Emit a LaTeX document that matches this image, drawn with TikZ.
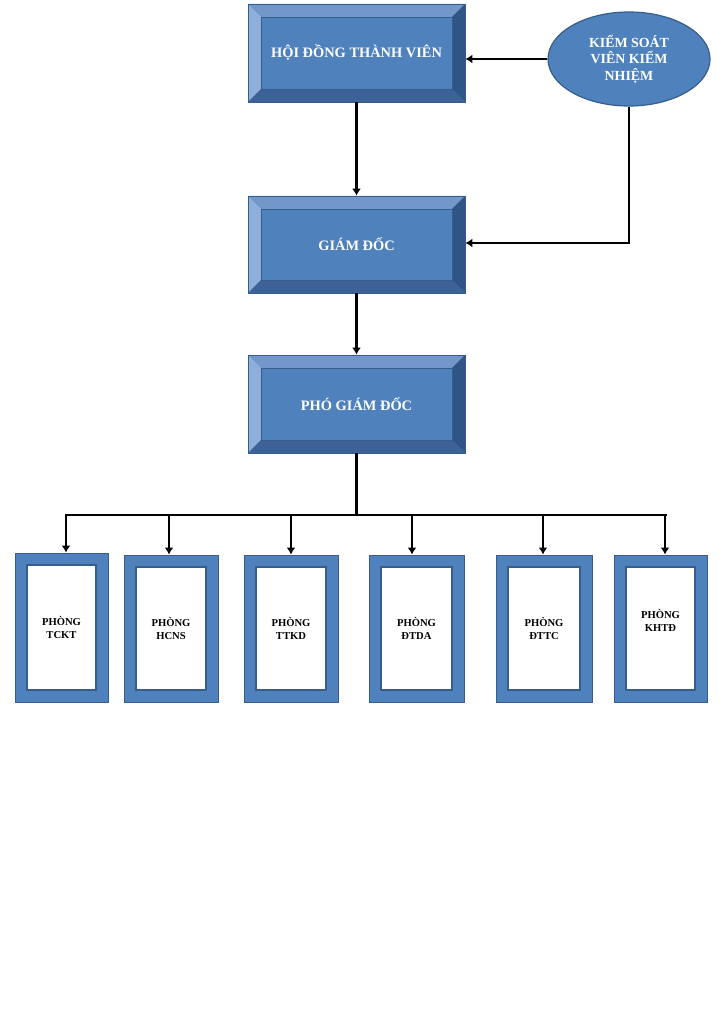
\documentclass[tikz,border=0pt]{standalone}
\usepackage{fontspec}
\setmainfont{Liberation Serif}
\usetikzlibrary{calc,arrows.meta,shapes.geometric}
\definecolor{boxblue}{HTML}{4F81BD}
\definecolor{boxedge}{HTML}{385D8A}
\definecolor{bevtop}{HTML}{7297CB}
\definecolor{bevleft}{HTML}{8FAEDA}
\definecolor{bevright}{HTML}{2F5486}
\definecolor{bevbot}{HTML}{3C6298}
\tikzset{
  bevelbox/.style={rectangle, fill=boxblue, draw=boxedge, line width=0.8pt,
    minimum width=217pt, minimum height=98pt, inner sep=0pt,
    text=white, font=\bfseries\fontsize{14.4}{16}\selectfont,
    path picture={
      \coordinate (nw) at (path picture bounding box.north west);
      \coordinate (ne) at (path picture bounding box.north east);
      \coordinate (sw) at (path picture bounding box.south west);
      \coordinate (se) at (path picture bounding box.south east);
      \fill[bevtop] (nw) -- (ne) -- ($(ne)+(-13pt,-13pt)$) -- ($(nw)+(13pt,-13pt)$) -- cycle;
      \fill[bevleft] (nw) -- (sw) -- ($(sw)+(13pt,13pt)$) -- ($(nw)+(13pt,-13pt)$) -- cycle;
      \fill[bevright] (ne) -- (se) -- ($(se)+(-13pt,13pt)$) -- ($(ne)+(-13pt,-13pt)$) -- cycle;
      \fill[bevbot] (sw) -- (se) -- ($(se)+(-13pt,13pt)$) -- ($(sw)+(13pt,13pt)$) -- cycle;
      \draw[boxedge, line width=0.5pt] ($(nw)+(13pt,-13pt)$) rectangle ($(se)+(-13pt,13pt)$);
    }},
  deptfont/.style={font=\bfseries\fontsize{10.6}{12.5}\selectfont},
  deptbox/.style={rectangle, fill=boxblue, draw=boxedge, line width=1pt,
    minimum width=94pt, minimum height=148pt, inner sep=0pt, align=center,
    deptfont,
    path picture={
      \draw[boxedge, line width=1.4pt, fill=white]
        ($(path picture bounding box.north west)+(12pt,-12pt)$) rectangle
        ($(path picture bounding box.south east)+(-12pt,12pt)$);
    }},
  oval/.style={ellipse, fill=boxblue, draw=boxedge, line width=1.2pt,
    minimum width=162pt, minimum height=94pt, inner sep=0pt, align=center,
    text=white, font=\bfseries\fontsize{13.9}{16.5}\selectfont},
  conn/.style={line width=2.3pt, -{Latex[length=7pt,width=9pt]}},
  bus/.style={line width=2.3pt}
}
\begin{document}
\begin{tikzpicture}[x=1pt,y=-1pt]
\useasboundingbox (0,0) rectangle (724,1024);
\node[bevelbox] (hdtv) at (356.5,53) {HỘI ĐỒNG THÀNH VIÊN};
\node[bevelbox, minimum height=97pt] (gd) at (356.5,244.5) {GIÁM ĐỐC};
\node[bevelbox] (pgd) at (356.5,404) {PHÓ GIÁM ĐỐC};
\node[oval] (ks) at (629,59) {KIỂM SOÁT\\VIÊN KIỂM\\NHIỆM};

\node[deptbox, minimum width=93pt, minimum height=149pt] (p1) at (61.5,627.5) {PHÒNG\\TCKT};
\node[deptbox, minimum height=147pt] (p2) at (171,628.5) {PHÒNG\\HCNS};
\node[deptbox, minimum height=147pt] (p3) at (291,628.5) {PHÒNG\\TTKD};
\node[deptbox, minimum width=95pt, minimum height=147pt] (p4) at (416.5,628.5) {PHÒNG\\ĐTDA};
\node[deptbox, minimum width=96pt, minimum height=147pt] (p5) at (544,628.5) {PHÒNG\\ĐTTC};
\node[deptbox, minimum width=93pt, minimum height=147pt,
  label={[deptfont, align=center, yshift=8pt]center:PHÒNG\\KHTĐ}] (p6) at (660.5,628.5) {};

% top connectors
\draw[conn] (ks.west) -- (hdtv.east |- ks.west);
\draw[conn] (hdtv.south) -- (gd.north);
\coordinate (kd) at (629,243);
\draw[conn] (ks.south) -- (kd) -- (gd.east |- kd);
\draw[conn] (gd.south) -- (pgd.north);

% bus
\coordinate (bl) at (66,515);
\coordinate (br) at (666,515);
\coordinate (bt) at (pgd.south |- bl);
\draw[bus] (pgd.south) -- (bt);
\draw[bus, line cap=rect] (bl) -- (br);
\coordinate (b1) at (66,515);
\coordinate (b2) at (169,515);
\coordinate (b3) at (291,515);
\coordinate (b4) at (412,515);
\coordinate (b5) at (543,515);
\coordinate (b6) at (665,515);
\draw[conn] (b1) -- (b1 |- p1.north);
\draw[conn] (b2) -- (b2 |- p2.north);
\draw[conn] (b3) -- (b3 |- p3.north);
\draw[conn] (b4) -- (b4 |- p4.north);
\draw[conn] (b5) -- (b5 |- p5.north);
\draw[conn] (b6) -- (b6 |- p6.north);
\end{tikzpicture}
\end{document}
